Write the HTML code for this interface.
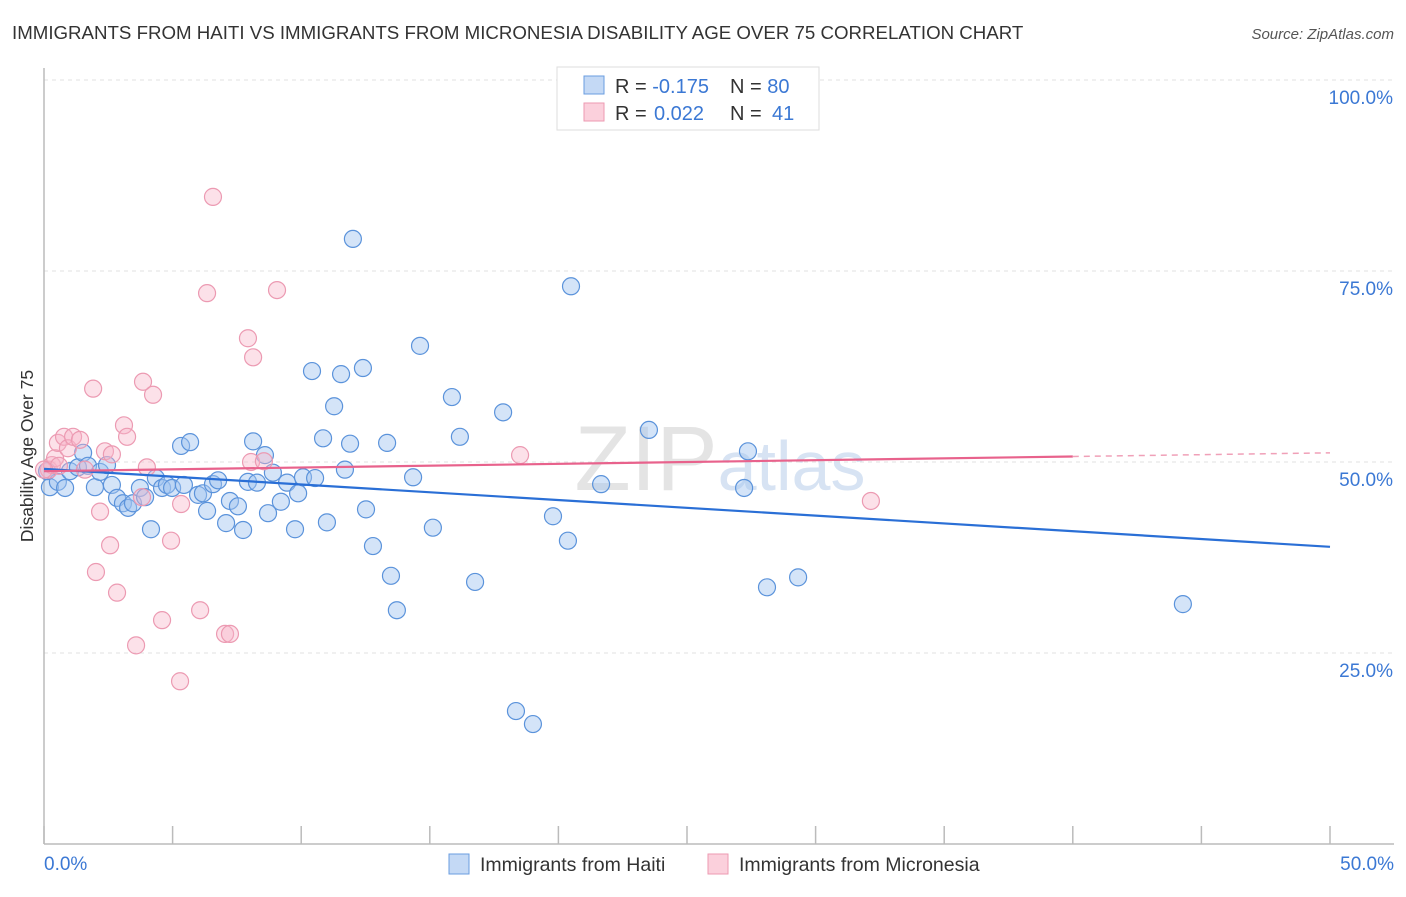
<!DOCTYPE html>
<html><head><meta charset="utf-8"><style>
body{margin:0;background:#fff;font-family:"Liberation Sans",sans-serif;}
svg text{font-family:"Liberation Sans",sans-serif;}
</style></head><body>
<svg id="chart" width="1406" height="892" xmlns="http://www.w3.org/2000/svg">
<text x="12" y="39" font-size="18.7" fill="#333">IMMIGRANTS FROM HAITI VS IMMIGRANTS FROM MICRONESIA DISABILITY AGE OVER 75 CORRELATION CHART</text>
<text x="1394" y="39" font-size="15" fill="#555" font-style="italic" text-anchor="end">Source: ZipAtlas.com</text>
<text x="720" y="490" font-size="92" fill="#e4e4e4" text-anchor="middle" font-family="Liberation Serif">ZIP<tspan fill="#d7e3f3" font-family="Liberation Sans" font-size="70">atlas</tspan></text>
<g id="grid"></g>
<line x1="44" y1="68" x2="44" y2="844" stroke="#bbb" stroke-width="1.5"/>
<line x1="44" y1="844" x2="1394" y2="844" stroke="#bbb" stroke-width="1.5"/>
<g id="xticks"></g>
<text transform="translate(33,456) rotate(-90)" font-size="17.5" fill="#333" text-anchor="middle">Disability Age Over 75</text>
<text x="44" y="870" font-size="19" fill="#3b78d4">0.0%</text>
<text x="1394" y="870" font-size="19" fill="#3b78d4" text-anchor="end">50.0%</text>
<g id="points"></g>
<g id="lines"></g>
<g>
<rect x="557" y="67" width="262" height="63" fill="#fff" stroke="#ddd"/>
<rect x="584" y="76" width="20" height="18" fill="#c4d9f5" stroke="#6a9de0"/>
<rect x="584" y="103" width="20" height="18" fill="#fbd0dc" stroke="#ec9ab2"/>
<text x="615" y="93" font-size="20" fill="#333">R = <tspan fill="#3b78d4">-0.175</tspan><tspan x="730">N = </tspan><tspan fill="#3b78d4">80</tspan></text>
<text x="615" y="120" font-size="20" fill="#333">R = <tspan fill="#3b78d4" x="654">0.022</tspan><tspan x="730">N = </tspan><tspan fill="#3b78d4" x="772">41</tspan></text>
</g>
<g>
<rect x="449" y="854" width="20" height="20" fill="#c4d9f5" stroke="#6a9de0"/>
<text x="480" y="871" font-size="19.5" fill="#333">Immigrants from Haiti</text>
<rect x="708" y="854" width="20" height="20" fill="#fbd0dc" stroke="#ec9ab2"/>
<text x="739" y="871" font-size="19.5" fill="#333">Immigrants from Micronesia</text>
</g>
</svg>
<script>
const yTicks=[25,50,75,100];
const yTickLabels=["25.0%","50.0%","75.0%","100.0%"];
const xTickVals=[0,5,10,15,20,25,30,35,40,45,50];
const haitiX=[0.23,0.54,0.82,1.01,1.32,1.52,1.71,1.98,2.18,2.45,2.64,2.84,3.07,3.27,3.46,3.73,3.93,4.16,4.35,4.59,4.78,4.98,5.33,5.44,5.68,5.99,6.18,6.34,6.57,6.77,7.08,7.23,7.54,7.74,7.93,8.13,8.28,8.59,8.71,8.90,9.21,9.45,9.76,9.88,10.07,10.42,10.54,10.85,11.0,11.28,11.55,11.70,11.90,12.01,12.40,12.52,12.79,13.34,13.49,13.72,14.35,14.62,15.12,15.86,16.17,16.76,17.85,18.35,19.01,19.79,20.37,20.49,21.66,23.52,27.22,27.37,28.11,29.32,44.28,0.12];
const haitiY=[46.7,47.4,46.6,48.8,49.3,51.2,49.5,46.7,48.7,49.6,47.0,45.3,44.6,44.0,44.6,46.6,45.4,41.2,47.9,46.6,47.0,46.6,52.1,47.0,52.6,45.7,45.9,43.6,47.1,47.6,42.0,44.9,44.2,41.1,47.4,52.7,47.3,50.9,43.3,48.6,44.8,47.3,41.2,45.9,48.0,61.9,47.9,53.1,42.1,57.3,61.5,49.0,52.4,79.2,62.3,43.8,39.0,52.5,35.1,30.6,48.0,65.2,41.4,58.5,53.3,34.3,56.5,17.4,15.7,42.9,39.7,73.0,47.1,54.2,46.6,51.4,33.6,34.9,31.4,48.8];
const micX=[0.19,0.31,0.43,0.54,0.78,0.93,1.13,1.40,1.59,1.91,2.18,2.37,2.57,2.64,2.84,3.11,3.23,3.58,3.81,3.85,4.0,4.24,4.59,4.94,5.29,5.33,6.07,6.34,6.57,7.04,7.23,7.93,8.13,8.05,8.55,9.06,18.51,32.15,2.02,0.58,0.0];
const micY=[49.0,49.6,50.5,52.5,53.3,51.8,53.3,52.9,49.0,59.6,43.5,51.4,39.1,51.0,32.9,54.8,53.3,26.0,45.4,60.5,49.3,58.8,29.3,39.7,21.3,44.5,30.6,72.1,84.7,27.5,27.5,66.2,63.7,50.0,50.1,72.5,50.9,44.9,35.6,49.5,49.0];
const haitiTrend=[49.1,38.9];
const micTrend=[48.8,51.2];
const micSolidEnd=40;
const NS="http://www.w3.org/2000/svg";
const xs=v=>44+v/50*1286;
const ys=v=>844-v/100*764;
function mk(t,a,p){const e=document.createElementNS(NS,t);for(const k in a)e.setAttribute(k,a[k]);p.appendChild(e);return e;}
const grid=document.getElementById('grid');
yTicks.forEach((t,i)=>{
 const l=mk('line',{x1:44,x2:1394,y1:ys(t),y2:ys(t),stroke:'#e2e2e2','stroke-dasharray':'4,4'},grid);
 
 
 const tx=mk('text',{x:1393,y:ys(t)+24,'font-size':19,fill:'#3b78d4','text-anchor':'end'},grid);
 tx.textContent=yTickLabels[i];
 
 
});
const xt=document.getElementById('xticks');
xTickVals.forEach(v=>{
 const l=mk('line',{x1:xs(v),x2:xs(v),y1:826,y2:844,stroke:'#bbb','stroke-width':1.5},xt);
 
 
});
const pts=document.getElementById('points');
haitiX.forEach((x,i)=>{
 const c=mk('circle',{cx:xs(x),cy:ys(haitiY[i]),r:8.5,fill:'rgba(160,196,240,0.45)',stroke:'#5b93db','stroke-width':1.2},pts);
 
 
});
micX.forEach((x,i)=>{
 const c=mk('circle',{cx:xs(x),cy:ys(micY[i]),r:8.5,fill:'rgba(248,180,200,0.4)',stroke:'#ec9ab2','stroke-width':1.2},pts);
 
 
});
const ln=document.getElementById('lines');
const b=mk('line',{x1:xs(0),y1:ys(haitiTrend[0]),x2:xs(50),y2:ys(haitiTrend[1]),stroke:'#2a6fd6','stroke-width':2.2},ln);


const pm=v=>micTrend[0]+(micTrend[1]-micTrend[0])*v/50;
const p1=mk('line',{x1:xs(0),y1:ys(pm(0)),x2:xs(micSolidEnd),y2:ys(pm(micSolidEnd)),stroke:'#e8628c','stroke-width':2.2},ln);


const p2=mk('line',{x1:xs(micSolidEnd),y1:ys(pm(micSolidEnd)),x2:xs(50),y2:ys(pm(50)),stroke:'#f0a0b8','stroke-width':1.5,'stroke-dasharray':'6,5'},ln);


</script>
</body></html>
